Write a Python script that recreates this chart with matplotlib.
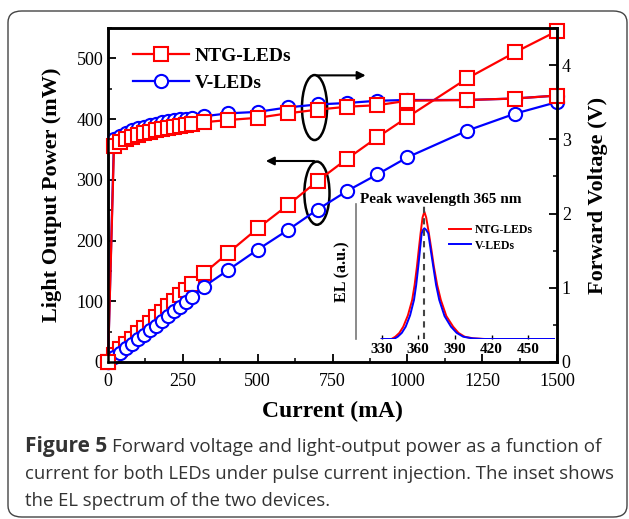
import matplotlib
matplotlib.use("Agg")
import matplotlib.pyplot as plt
from matplotlib.patches import Ellipse, FancyBboxPatch
from matplotlib.ticker import MultipleLocator

plt.rcParams['font.family'] = ['Liberation Serif', 'DejaVu Serif']

# --------------------------
# data
# --------------------------
current = [0, 20, 40, 60, 80, 100, 120, 140, 160, 180, 200, 220, 240, 260, 280,
           320, 400, 500, 600, 700, 800, 900, 1000, 1200, 1360, 1500]

# light output power (mW), left axis
power_ntg = [0, 12, 21, 30, 38, 47, 56, 65, 74, 83, 92, 101, 110, 119, 128,
             146, 179, 220, 258, 298, 335, 370, 403, 467, 510, 545]
power_v = [0, 8, 15, 23, 30, 38, 45, 53, 60, 68, 76, 84, 91, 99, 107,
           124, 151, 185, 217, 251, 282, 309, 337, 381, 409, 428]

# forward voltage (V), right axis
volt_ntg = [0, 2.91, 2.96, 3.00, 3.03, 3.06, 3.08, 3.10, 3.12, 3.14, 3.15, 3.17, 3.18, 3.19, 3.20,
            3.23, 3.26, 3.29, 3.35, 3.40, 3.44, 3.46, 3.52, 3.53, 3.55, 3.59]
volt_v = [0, 3.00, 3.05, 3.09, 3.12, 3.15, 3.17, 3.19, 3.21, 3.23, 3.25, 3.26, 3.27, 3.28, 3.29,
          3.31, 3.35, 3.37, 3.43, 3.47, 3.49, 3.52, 3.53, 3.53, 3.55, 3.59]

# inset EL spectra (a.u.)
wl_ntg = [330, 338, 341.2, 344.5, 347.7, 351.5, 355.0, 357.0, 358.9, 360.5, 361.9, 363.5,
          365, 366.5, 368.7, 370.8, 372.8, 375.5, 378.5, 383.0, 388.6, 393.0, 398, 405, 415, 472]
el_ntg = [0, 0, 0.017, 0.045, 0.091, 0.175, 0.289, 0.40, 0.536, 0.67, 0.783, 0.90,
          0.943, 0.90, 0.783, 0.66, 0.536, 0.40, 0.289, 0.17, 0.091, 0.045, 0.017, 0.005, 0, 0]
wl_v = [330, 340, 343.2, 346.5, 349.7, 353.3, 356.5, 358.3, 360.0, 361.5, 362.8, 364.0,
        365, 366.3, 368.2, 370.2, 372.3, 374.6, 377.2, 381.5, 386.8, 391.5, 396.8, 404, 413, 472]
el_v = [0, 0, 0.017, 0.045, 0.091, 0.175, 0.289, 0.40, 0.536, 0.67, 0.783, 0.81,
        0.82, 0.81, 0.783, 0.66, 0.536, 0.40, 0.289, 0.17, 0.091, 0.045, 0.017, 0.005, 0, 0]

RED = '#ff0000'
BLUE = '#0000ff'
W, H = 629, 519

fig = plt.figure(figsize=(6.29, 5.19), dpi=100)

# rounded frame around figure + caption
frame = FancyBboxPatch((8 / W, 2 / H), 619 / W, 506 / H,
                       boxstyle="round,pad=0,rounding_size=0.022",
                       transform=fig.transFigure, facecolor='none',
                       edgecolor='#444444', linewidth=1.0)
fig.patches.append(frame)

# --------------------------
# main axes
# --------------------------
ax = fig.add_axes([108 / W, 1 - 362 / H, 449 / W, 334 / H])
ax2 = ax.twinx()

mk = dict(markersize=9.5, markerfacecolor='white', markeredgewidth=1.5,
          linewidth=1.6, clip_on=False)
ax.plot(current, power_ntg, color=RED, marker='s', label='NTG-LEDs', **mk)
ax.plot(current, power_v, color=BLUE, marker='o', label='V-LEDs', **mk)
ax2.plot(current, volt_v, color=BLUE, marker='o', **mk)
ax2.plot(current, volt_ntg, color=RED, marker='s', **mk)

ax.set_xlim(0, 1500)
ax.set_ylim(0, 550)
ax2.set_ylim(0, 4.5)
ax.xaxis.set_major_locator(MultipleLocator(250))
ax.xaxis.set_minor_locator(MultipleLocator(125))
ax.yaxis.set_major_locator(MultipleLocator(100))
ax.yaxis.set_minor_locator(MultipleLocator(50))
ax2.yaxis.set_major_locator(MultipleLocator(1))
ax2.yaxis.set_minor_locator(MultipleLocator(0.5))

for a in (ax, ax2):
    a.tick_params(which='major', direction='in', length=6, width=1.3, labelsize=13)
    a.tick_params(which='minor', direction='in', length=3, width=1.1)
    for s in a.spines.values():
        s.set_linewidth(1.8)
ax.tick_params(axis='x', pad=8)

ax.set_xlabel('Current (mA)', fontsize=17, fontweight='bold', labelpad=8)
ax.set_ylabel('Light Output Power (mW)', fontsize=16, fontweight='bold', labelpad=10)
ax2.set_ylabel('Forward Voltage (V)', fontsize=16, fontweight='bold', labelpad=12)

leg = ax.legend(loc='upper left', bbox_to_anchor=(0.016, 0.995), frameon=False,
                prop={'weight': 'bold', 'size': 14}, handlelength=2.9,
                labelspacing=0.5, handletextpad=0.3)

# ellipses and arrows pointing at the axes
ax.add_patch(Ellipse((690, 419), 84, 107, fill=False, edgecolor='black', linewidth=1.8))
ax.annotate('', xy=(870, 472), xytext=(690, 472),
            arrowprops=dict(arrowstyle='-|>', color='black', lw=1.5, mutation_scale=12))
ax.add_patch(Ellipse((698, 278), 84, 104, fill=False, edgecolor='black', linewidth=1.8))
ax.annotate('', xy=(518, 331), xytext=(698, 331),
            arrowprops=dict(arrowstyle='-|>', color='black', lw=1.5, mutation_scale=12))

# --------------------------
# inset: EL spectrum
# --------------------------
axi = fig.add_axes([356 / W, 1 - 339 / H, 199 / W, 135 / H])
axi.patch.set_alpha(0)
axi.plot(wl_ntg, el_ntg, color=RED, linewidth=1.4, label='NTG-LEDs')
axi.plot(wl_v, el_v, color=BLUE, linewidth=1.4, label='V-LEDs')
axi.axvline(365, ymin=0, ymax=1.0, color='#444444', linestyle='--', linewidth=1.5, dashes=(3, 2.5))
axi.set_xlim(309, 472)
axi.set_ylim(0, 1)
axi.set_xticks([330, 360, 390, 420, 450])
axi.set_yticks([])
for side in ('top', 'right', 'bottom'):
    axi.spines[side].set_visible(False)
axi.spines['left'].set_color('#777777')
axi.spines['left'].set_linewidth(1.2)
axi.tick_params(axis='x', direction='in', length=3, width=1, pad=3, labelsize=11)
for lab in axi.get_xticklabels():
    lab.set_fontweight('bold')
axi.set_ylabel('EL (a.u.)', fontsize=11.5, fontweight='bold', labelpad=4)
axi.text(0.02, 0.985, 'Peak wavelength 365 nm', transform=axi.transAxes,
         fontsize=11, fontweight='bold', va='bottom', ha='left')
axi.legend(loc='upper left', bbox_to_anchor=((449 - 356) / 199, (339 - 224) / 135),
           borderaxespad=0, borderpad=0, frameon=False,
           prop={'weight': 'bold', 'size': 8.5}, handlelength=1.9,
           labelspacing=0.3, handletextpad=0.3)

# --------------------------
# caption
# --------------------------
cap = dict(family=['Open Sans', 'DejaVu Sans'], color='#333333', va='baseline')
t = fig.text(25 / W, 1 - 452 / H, 'Figure 5', fontweight='bold', fontsize=15, **cap)
fig.canvas.draw()
bb = t.get_window_extent()
fig.text((bb.x1 + 5) / W, 1 - 452 / H,
         'Forward voltage and light-output power as a function of', fontsize=13.6, **cap)
fig.text(25 / W, 1 - 479 / H,
         'current for both LEDs under pulse current injection. The inset shows', fontsize=13.3, **cap)
fig.text(25 / W, 1 - 506 / H, 'the EL spectrum of the two devices.', fontsize=13.3, **cap)

fig.savefig('out.png', dpi=100)
